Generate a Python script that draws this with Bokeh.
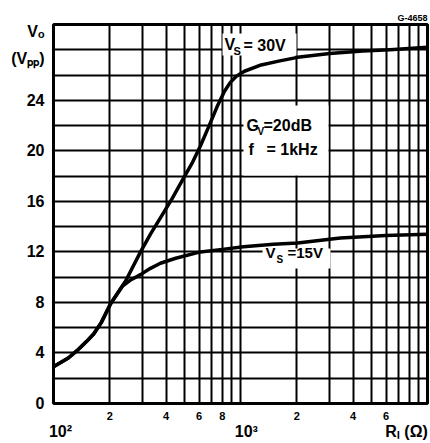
from bokeh.plotting import figure
from bokeh.models import Range1d, FixedTicker, Label, BoxAnnotation, LogAxis, Title
from bokeh.embed import file_html
from bokeh.resources import INLINE

# ---- data ----
r_30 = [100, 120, 134, 150, 164, 180, 202, 243, 292, 330, 373, 430, 490, 550, 611,
        680, 750, 820, 880, 950, 1050, 1290, 1600, 2020, 3000, 4500, 6300, 10000]
v_30 = [2.9, 3.6, 4.2, 4.9, 5.5, 6.4, 7.9, 9.7, 12.0, 13.4, 14.7, 16.2, 17.7, 19.0, 20.4,
        22.0, 23.5, 24.7, 25.4, 25.9, 26.3, 26.8, 27.1, 27.4, 27.7, 27.9, 28.0, 28.2]

r_15 = [100, 120, 134, 150, 164, 180, 202, 234, 260, 292, 330, 373, 450, 611,
        800, 1038, 1500, 2020, 3420, 6000, 10000]
v_15 = [2.9, 3.6, 4.2, 4.9, 5.5, 6.4, 7.9, 9.3, 9.8, 10.2, 10.7, 11.1, 11.5, 12.0,
        12.2, 12.4, 12.6, 12.7, 13.1, 13.3, 13.4]

y_ticks = [0, 4, 8, 12, 16, 20, 24]
y_tick_labels = ["0", "4", "8", "12", "16", "20", "24"]
y_title_ticks = [27.3, 29.45]
y_title_labels = ["(Vₚₚ)", "Vₒ"]
x_ticks = [200, 400, 600, 800, 2000, 4000, 6000]
x_tick_labels = ["2", "4", "6", "8", "2", "4", "6"]
x_decade_ticks = [109, 1074, 7727]
x_decade_labels = ["10²", "10³", "Rₗ (Ω)"]
x_grid = [100, 200, 300, 400, 500, 600, 700, 800, 900, 1000,
          2000, 3000, 4000, 5000, 6000, 7000, 8000, 9000, 10000]
y_grid = [0, 2, 4, 6, 8, 10, 12, 14, 16, 18, 20, 22, 24, 26, 28, 30]

FONT = "Liberation Sans"
W, H = 430, 443

p = figure(width=W, height=H, x_axis_type="log",
           x_range=Range1d(100, 10000), y_range=Range1d(0, 30),
           output_backend="svg", toolbar_location=None,
           min_border_left=53, min_border_right=3, min_border_top=24, min_border_bottom=40)
p.background_fill_color = "white"
p.border_fill_color = "white"
p.outline_line_color = "black"
p.outline_line_width = 3

p.title = Title(text="G-4658", align="right", text_font=FONT, text_font_style="bold",
                text_font_size="9px", standoff=3, text_color="black")

p.xgrid.ticker = FixedTicker(ticks=x_grid)
p.ygrid.ticker = FixedTicker(ticks=y_grid)
for g in (p.xgrid, p.ygrid):
    g.grid_line_color = "black"
    g.grid_line_width = 2
    g.grid_line_alpha = 1.0

# second x axis below for decade labels and the axis title
x_axis2 = LogAxis(ticker=FixedTicker(ticks=x_decade_ticks),
                  major_label_overrides={t: l for t, l in zip(x_decade_ticks, x_decade_labels)})
p.add_layout(x_axis2, "below")

p.xaxis[0].ticker = FixedTicker(ticks=x_ticks)
p.xaxis[0].major_label_overrides = {t: l for t, l in zip(x_ticks, x_tick_labels)}
all_y = y_ticks + y_title_ticks
p.yaxis.ticker = FixedTicker(ticks=all_y)
p.yaxis.major_label_overrides = {t: l for t, l in zip(all_y, y_tick_labels + y_title_labels)}

for ax in list(p.xaxis) + list(p.yaxis):
    ax.axis_line_color = None
    ax.major_tick_line_color = None
    ax.minor_tick_line_color = None
    ax.major_tick_out = 0
    ax.major_tick_in = 0
    ax.minor_tick_out = 0
    ax.minor_tick_in = 0
    ax.major_label_text_font = FONT
    ax.major_label_text_font_style = "bold"
    ax.major_label_text_color = "black"
p.xaxis[0].major_label_text_font_size = "11px"
p.xaxis[0].major_label_standoff = 8
x_axis2.major_label_text_font_size = "16px"
x_axis2.major_label_standoff = 0
p.yaxis.major_label_text_font_size = "16px"
p.yaxis.major_label_standoff = 9

p.line(r_30, v_30, line_width=3.5, color="black", line_join="round")
p.line(r_15, v_15, line_width=3.5, color="black", line_join="round")


def px2x(px):
    return 100 * 10 ** ((px - 53) / 187.0)


def py2y(py):
    return (403 - py) / 12.633


def box(x0, x1, y0, y1):
    p.add_layout(BoxAnnotation(left=px2x(x0), right=px2x(x1), top=py2y(y0), bottom=py2y(y1),
                               fill_color="white", fill_alpha=1.0, line_color=None))


def lab(px, py, text, size, align="left"):
    p.add_layout(Label(x=px2x(px), y=py2y(py), text=text, text_font=FONT,
                       text_font_style="bold", text_font_size=f"{size}px",
                       text_align=align, text_baseline="middle", text_color="black"))


# white patches behind in-plot annotations
box(222, 296, 33, 55)
box(243, 328, 105, 175)
box(262, 330, 248, 268)

# curve labels
lab(224, 44, "V", 16)
lab(233, 51, "S", 11)
lab(243, 45, "= 30V", 16)

lab(246, 125, "G", 16)
lab(257, 131, "V", 10)
lab(263, 125, "=20dB", 16)
lab(248, 149, "f", 16)
lab(266, 149, "= 1kHz", 16)

lab(265, 252, "V", 15)
lab(276, 259, "S", 10)
lab(287, 252, "=15V", 15)

open("out.html", "w").write(file_html(p, INLINE))
